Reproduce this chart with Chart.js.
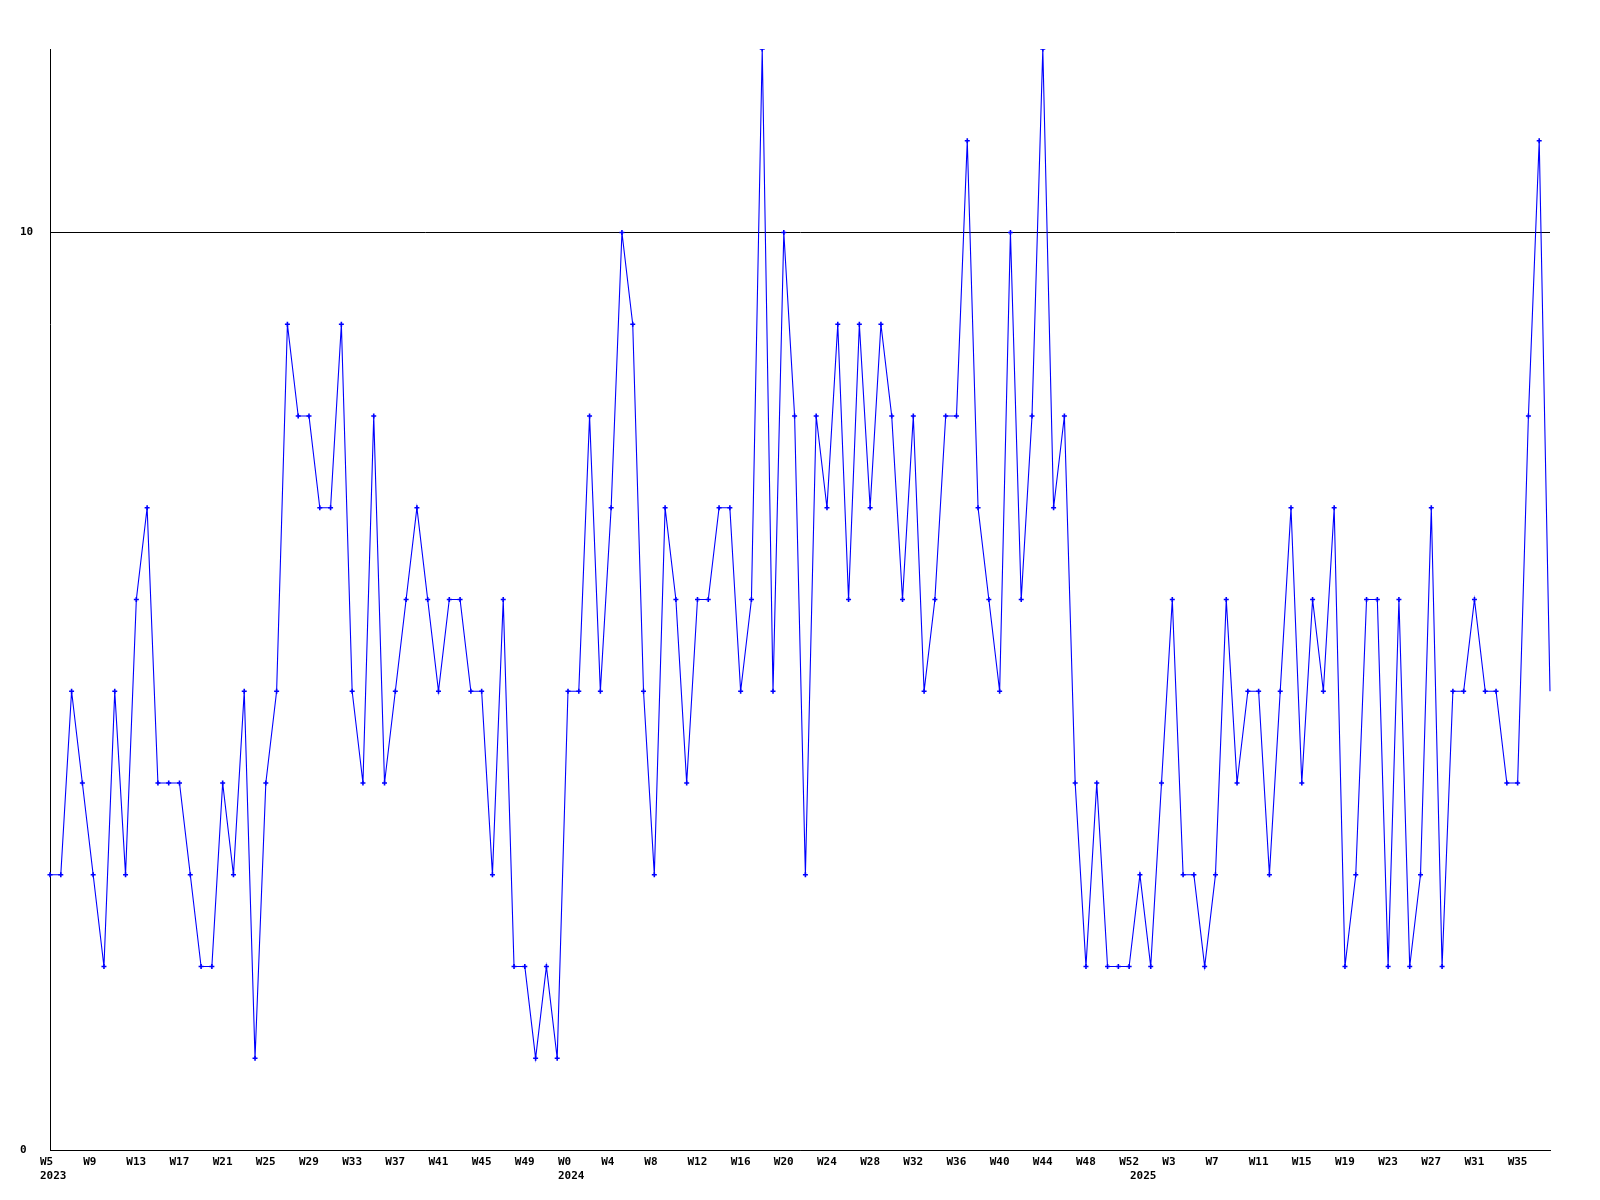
<!DOCTYPE html>
<html>
<head>
<meta charset="utf-8">
<script src="https://cdn.jsdelivr.net/npm/chart.js@4/dist/chart.umd.min.js"></script>
<style>
  html, body { margin: 0; padding: 0; background: #fff; }
  #wrap { width: 1600px; height: 1200px; }
</style>
</head>
<body>
<div id="wrap"><canvas id="chart" width="1600" height="1200"></canvas></div>
<script>
// week ranges per year (x categories)
const years = ['2023', '2024', '2025'];
const firstWeek = [5, 0, 0];
const lastWeek = [52, 52, 38];

// weekly values
const values = [
  3, 3, 5, 4, 3, 2, 5, 3, 6, 7,
  4, 4, 4, 3, 2, 2, 4, 3, 5, 1,
  4, 5, 9, 8, 8, 7, 7, 9, 5, 4,
  8, 4, 5, 6, 7, 6, 5, 6, 6, 5,
  5, 3, 6, 2, 2, 1, 2, 1, 5, 5,
  8, 5, 7, 10, 9, 5, 3, 7, 6, 4,
  6, 6, 7, 7, 5, 6, 12, 5, 10, 8,
  3, 8, 7, 9, 6, 9, 7, 9, 8, 6,
  8, 5, 6, 8, 8, 11, 7, 6, 5, 10,
  6, 8, 12, 7, 8, 4, 2, 4, 2, 2,
  2, 3, 2, 4, 6, 3, 3, 2, 3, 6,
  4, 5, 5, 3, 5, 7, 4, 6, 5, 7,
  2, 3, 6, 6, 2, 6, 2, 3, 7, 2,
  5, 5, 6, 5, 5, 4, 4, 8, 11, 5
];

const yTicks = [0, 10];

// build category labels and remember where each year starts
const weekLabels = [];
const yearAt = {};
years.forEach((y, i) => {
  yearAt[weekLabels.length] = y;
  for (let w = firstWeek[i]; w <= lastWeek[i]; w++) {
    weekLabels.push('W' + w);
  }
});

const font = { family: 'DejaVu Sans Mono', size: 11, weight: 'bold', lineHeight: 1.3 };

new Chart(document.getElementById('chart'), {
  type: 'line',
  data: {
    labels: weekLabels,
    datasets: [{
      data: values,
      borderColor: '#0000ff',
      backgroundColor: '#0000ff',
      borderWidth: 1.1,
      tension: 0,
      fill: false,
      pointStyle: 'cross',
      // the last (still open) week has no marker in the original
      pointRadius: ctx => ctx.dataIndex === values.length - 1 ? 0 : 2.5,
      pointBorderWidth: 1.6,
      pointBorderColor: '#0000ff'
    }]
  },
  options: {
    responsive: false,
    animation: false,
    devicePixelRatio: 1,
    layout: { padding: { top: 49, left: 20, right: 50, bottom: 0 } },
    plugins: {
      legend: { display: false },
      tooltip: { enabled: false }
    },
    scales: {
      x: {
        offset: false,
        grid: { display: false, drawTicks: false },
        border: { display: true, color: '#000', width: 1 },
        ticks: {
          autoSkip: false,
          maxRotation: 0,
          minRotation: 0,
          align: 'start',
          labelOffset: -10,
          padding: 5,
          color: '#000',
          font: font,
          callback: function (value, index) {
            const top = index % 4 === 0 ? weekLabels[index] : '';
            if (yearAt[index]) return [top, yearAt[index]];
            return top;
          }
        },
        afterFit: function (scale) { scale.height = 50; }
      },
      y: {
        min: 0,
        max: 12,
        grid: { color: '#000', lineWidth: 1, drawTicks: false },
        border: { display: true, color: '#000', width: 1 },
        ticks: {
          stepSize: 10,
          crossAlign: 'far',
          padding: 0,
          color: '#000',
          font: font
        },
        afterBuildTicks: function (scale) {
          scale.ticks = yTicks.map(v => ({ value: v }));
        },
        afterFit: function (scale) { scale.width = 30; }
      }
    }
  },
  plugins: [{
    id: 'whiteBg',
    beforeDraw: function (chart) {
      const ctx = chart.ctx;
      ctx.save();
      ctx.fillStyle = '#fff';
      ctx.fillRect(0, 0, chart.width, chart.height);
      ctx.restore();
    }
  }]
});
</script>
</body>
</html>
